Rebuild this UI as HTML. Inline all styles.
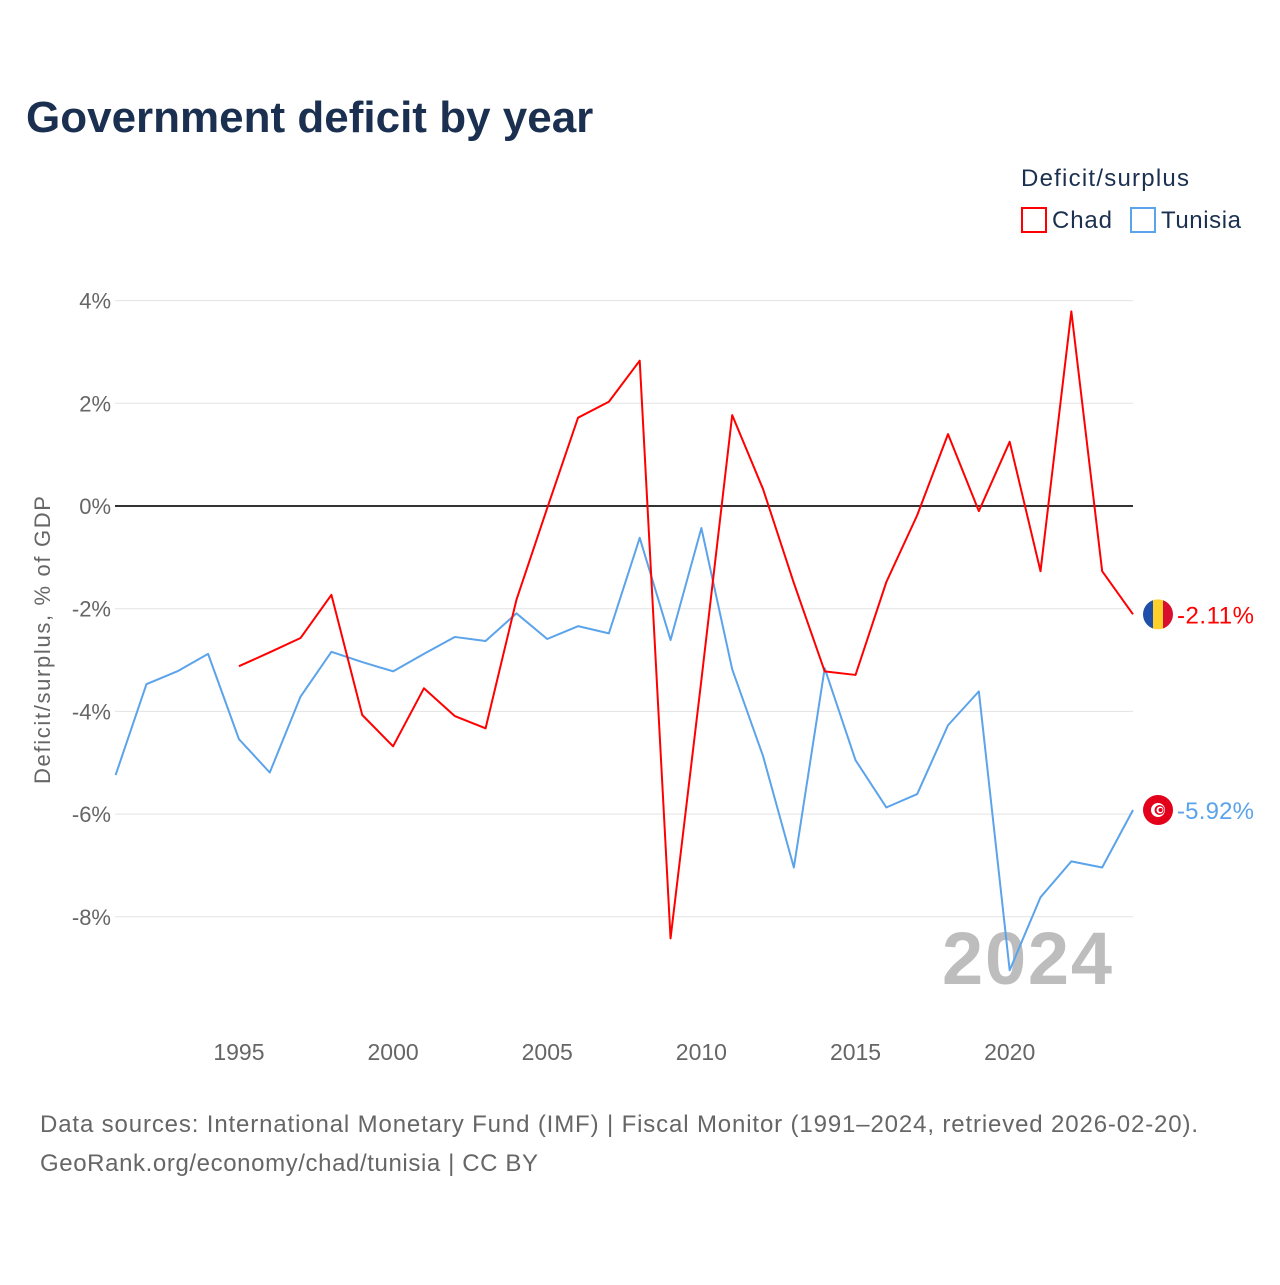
<!DOCTYPE html>
<html><head><meta charset="utf-8"><style>
body{margin:0;background:#fff;font-family:"Liberation Sans",sans-serif}
svg text{font-family:"Liberation Sans",sans-serif}
</style></head><body>
<svg width="1280" height="1280" xmlns="http://www.w3.org/2000/svg">
<text x="26" y="132" font-size="44" font-weight="bold" fill="#1b3050">Government deficit by year</text>
<text x="1021" y="186" font-size="24" fill="#1b3050" textLength="168">Deficit/surplus</text>
<g><rect x="1022" y="208" width="24" height="24" fill="none" stroke="#ff0000" stroke-width="2"/><text x="1052" y="228" font-size="24" fill="#1b3050" textLength="60">Chad</text></g>
<g><rect x="1131" y="208" width="24" height="24" fill="none" stroke="#5ba3ea" stroke-width="2"/><text x="1161" y="228" font-size="24" fill="#1b3050" textLength="80">Tunisia</text></g>
<g id="grid"></g><g id="xt"></g>
<text x="1112" y="984" font-size="74" font-weight="bold" fill="#bdbdbd" text-anchor="end" textLength="170">2024</text>
<g id="series"></g>
<text transform="translate(50,640) rotate(-90)" font-size="22" fill="#666" text-anchor="middle" textLength="288">Deficit/surplus, % of GDP</text>
<text x="40" y="1132" font-size="24" fill="#666" textLength="1158">Data sources: International Monetary Fund (IMF) | Fiscal Monitor (1991–2024, retrieved 2026-02-20).</text>
<text x="40" y="1171" font-size="24" fill="#666" textLength="498">GeoRank.org/economy/chad/tunisia | CC BY</text>
</svg>
<script>
const yTicks=[4,2,0,-2,-4,-6,-8];
const xTicks=[1995,2000,2005,2010,2015,2020];
const tunisiaYears=[1991,1992,1993,1994,1995,1996,1997,1998,1999,2000,2001,2002,2003,2004,2005,2006,2007,2008,2009,2010,2011,2012,2013,2014,2015,2016,2017,2018,2019,2020,2021,2022,2023,2024];
const tunisiaValues=[-5.24,-3.47,-3.22,-2.88,-4.54,-5.19,-3.71,-2.84,-3.04,-3.22,-2.88,-2.55,-2.63,-2.09,-2.59,-2.34,-2.48,-0.62,-2.61,-0.43,-3.18,-4.87,-7.04,-3.16,-4.95,-5.87,-5.61,-4.27,-3.61,-9.04,-7.62,-6.92,-7.04,-5.92];
const chadYears=[1995,1996,1997,1998,1999,2000,2001,2002,2003,2004,2005,2006,2007,2008,2009,2010,2011,2012,2013,2014,2015,2016,2017,2018,2019,2020,2021,2022,2023,2024];
const chadValues=[-3.12,-2.85,-2.57,-1.73,-4.07,-4.68,-3.55,-4.09,-4.33,-1.83,-0.04,1.72,2.03,2.83,-8.42,-3.39,1.77,0.33,-1.50,-3.22,-3.29,-1.48,-0.18,1.40,-0.10,1.25,-1.27,3.79,-1.27,-2.11];
const NS="http://www.w3.org/2000/svg";
const X=y=>115.6+(y-1991)*(1133-115.6)/33;
const Y=v=>506-v*51.35;
function mk(t,a,p){const e=document.createElementNS(NS,t);for(const k in a)e.setAttribute(k,a[k]);p.appendChild(e);return e;}
const g=document.getElementById('grid');
yTicks.forEach(v=>{
 const l=mk('line',{x1:115,x2:1133,y1:Y(v),y2:Y(v),stroke:v===0?'#333':'#e3e3e3','stroke-width':v===0?2:1},g);
 
 
 const t=mk('text',{x:111,y:Y(v)+8,'font-size':22,fill:'#666','text-anchor':'end'},g);t.textContent=v+'%';
 
 
});
const xt=document.getElementById('xt');
xTicks.forEach(y=>{const t=mk('text',{x:X(y),y:1060,'font-size':23,fill:'#666','text-anchor':'middle'},xt);t.textContent=y;
 
 });
const s=document.getElementById('series');
function line(ys,vs,c,name){
 const p=mk('polyline',{points:ys.map((y,i)=>X(y)+','+Y(vs[i])).join(' '),fill:'none',stroke:c,'stroke-width':2,'stroke-linejoin':'round'},s);
 
 
}
line(tunisiaYears,tunisiaValues,'#5ba3ea','tunisia-line');
line(chadYears,chadValues,'#ff0000','chad-line');
const cy=Y(chadValues[chadValues.length-1]), ty=Y(tunisiaValues[tunisiaValues.length-1]);
const cx=1158;
const cf=mk('g',{},s);


mk('clipPath',{id:'cc'},cf).appendChild(document.createElementNS(NS,'circle')).setAttribute('r',15);
document.querySelector('#cc circle').setAttribute('cx',cx);document.querySelector('#cc circle').setAttribute('cy',cy);
mk('rect',{x:cx-15,y:cy-15,width:10,height:30,fill:'#1f4fa8','clip-path':'url(#cc)'},cf);
mk('rect',{x:cx-5,y:cy-15,width:10,height:30,fill:'#fed02c','clip-path':'url(#cc)'},cf);
mk('rect',{x:cx+5,y:cy-15,width:10,height:30,fill:'#d8102e','clip-path':'url(#cc)'},cf);
const ct=mk('text',{x:1177,y:cy+9,'font-size':24,fill:'#ff0000',textLength:77},s);ct.textContent=chadValues[chadValues.length-1].toFixed(2)+'%';


const tf=mk('g',{},s);


mk('circle',{cx:cx,cy:ty,r:15,fill:'#e3001b'},tf);
mk('circle',{cx:cx,cy:ty,r:7,fill:'#fff'},tf);
mk('circle',{cx:cx+1.5,cy:ty,r:5,fill:'#e3001b'},tf);
mk('circle',{cx:cx+2,cy:ty,r:3.5,fill:'#fff'},tf);
mk('circle',{cx:cx+2.5,cy:ty,r:2,fill:'#e3001b'},tf);
const tt=mk('text',{x:1177,y:ty+9,'font-size':24,fill:'#5ba3ea',textLength:77},s);tt.textContent=tunisiaValues[tunisiaValues.length-1].toFixed(2)+'%';


</script>
</body></html>
